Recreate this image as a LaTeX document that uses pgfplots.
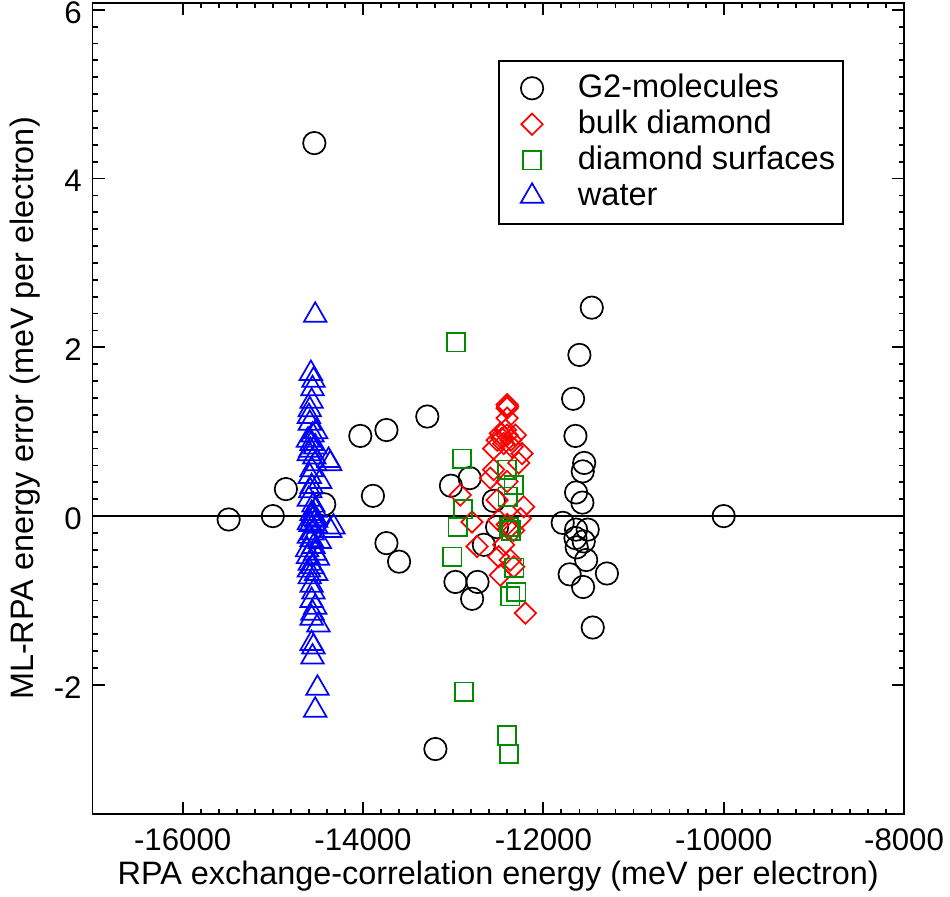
\documentclass[border=0pt]{standalone}
\usepackage{fontspec}
\setmainfont{Liberation Sans}
\usepackage{pgfplots}
\pgfplotsset{compat=1.18}
\definecolor{mygreen}{RGB}{0,140,0}
\pgfplotsset{myleg/.style={legend image code/.code={%
  \path (-5.5pt,0pt) (29pt,0pt);
  \draw[mark repeat=2,mark phase=2,##1] plot coordinates {(0cm,0cm) (0.3cm,0cm) (0.6cm,0cm)};}}}
\begin{document}
\begin{tikzpicture}
\begin{axis}[
 scale only axis, width=405.75pt, height=405.5pt,
 xmin=-17000, xmax=-8000, ymin=-3.53, ymax=6.08,
 xtick={-16000,-14000,-12000,-10000,-8000}, ytick={-2,0,2,4,6},
 minor x tick num=9, minor y tick num=9,
 scaled x ticks=false, scaled y ticks=false,
 tick align=inside, major tick length=6pt, minor tick length=2.6pt,
 xtick pos=both, ytick pos=both, xticklabel pos=lower, yticklabel pos=left,
 every tick/.style={black, line width=0.9pt},
 axis line style={line width=0.9pt},
 /pgf/number format/assume math mode=true,
 /pgf/number format/1000 sep={},
 tick label style={font=\fontsize{15.6}{18}\selectfont},
 xticklabel style={inner sep=0pt, yshift=-7pt},
 yticklabel style={inner sep=0pt, xshift=-5.25pt, yshift=-1.3pt},
 xlabel={RPA exchange-correlation energy (meV per electron)},
 ylabel={ML-RPA energy error (meV per electron)},
 every axis x label/.style={at={(axis description cs:0.5,-0.0875)}, anchor=base, font=\fontsize{16.2}{19}\selectfont},
 every axis y label/.style={at={(axis description cs:-0.0727,0.5)}, rotate=90, anchor=base, font=\fontsize{16.2}{19}\selectfont},
 legend style={at={(0.5,0.93)}, anchor=north west, draw=black, line width=0.9pt,
   font=\fontsize{16.3}{19}\selectfont, inner xsep=2pt, inner ysep=4.8pt,
   nodes={inner sep=2pt, text height=11.8pt, text depth=2.2pt}, column sep=0pt},
 legend cell align=left,
 clip=false,
]
\addplot[black, line width=0.85pt, forget plot] coordinates {(-17000,0) (-8000,0)};
\addplot[only marks, myleg, mark=o, mark size=5.6pt, black, line width=0.85pt] table {
-15490 -0.04
-15000 0.00
-14855 0.32
-14540 4.42
-14430 0.14
-14030 0.95
-13890 0.24
-13740 1.02
-13740 -0.32
-13600 -0.54
-13287 1.18
-13197 -2.76
-13025 0.36
-12975 -0.78
-12817 0.45
-12790 -0.98
-12730 -0.78
-12660 -0.34
-12550 0.18
-12513 -0.13
-11463 2.47
-11600 1.91
-11670 1.39
-11644 0.95
-11547 0.63
-11563 0.53
-11637 0.28
-11567 0.16
-11785 -0.08
-11637 -0.16
-11508 -0.16
-11552 -0.30
-11644 -0.26
-11630 -0.37
-11525 -0.52
-11708 -0.69
-11295 -0.68
-11559 -0.84
-11452 -1.32
-10000 0.00
};
\addlegendentry{G2-molecules}
\addplot[only marks, myleg, mark=square, mark size=3.77pt, mark options={rotate=45}, red, line width=0.85pt] table {
-12402 1.32
-12395 1.30
-12402 1.28
-12402 1.16
-12420 1.02
-12477 0.98
-12402 0.96
-12310 0.96
-12460 0.92
-12360 0.90
-12513 0.90
-12440 0.86
-12551 0.80
-12347 0.82
-12236 0.74
-12273 0.63
-12551 0.55
-12588 0.45
-12402 0.41
-12921 0.25
-12513 0.19
-12218 0.11
-12255 -0.03
-12791 -0.07
-12496 -0.05
-12400 -0.10
-12385 -0.15
-12329 -0.17
-12735 -0.36
-12440 -0.34
-12496 -0.48
-12366 -0.52
-12329 -0.60
-12477 -0.70
-12199 -1.15
};
\addlegendentry{bulk diamond}
\addplot[only marks, myleg, mark=square, mark size=4.6pt, mygreen, line width=0.85pt] table {
-12969 2.06
-12902 0.68
-12891 0.08
-12950 -0.13
-13010 -0.48
-12880 -2.08
-12402 0.55
-12329 0.37
-12396 0.23
-12358 -0.17
-12380 -0.13
-12321 -0.61
-12299 -0.90
-12366 -0.95
-12402 -2.60
-12380 -2.82
};
\addlegendentry{diamond surfaces}
\addplot[only marks, myleg, mark=triangle, mark size=6.5pt, blue, line width=0.85pt] table {
-14530 2.38
-14578 1.69
-14549 1.61
-14560 1.51
-14570 1.36
-14590 1.26
-14600 1.18
-14590 1.10
-14520 1.00
-14560 0.96
-14610 0.90
-14570 0.86
-14530 0.82
-14585 0.78
-14600 0.74
-14540 0.70
-14382 0.66
-14364 0.62
-14530 0.62
-14570 0.55
-14590 0.47
-14475 0.41
-14570 0.35
-14585 0.30
-14600 0.20
-14550 0.13
-14530 0.07
-14570 0.03
-14540 0.00
-14550 -0.03
-14520 -0.05
-14600 -0.08
-14580 -0.10
-14520 -0.12
-14327 -0.13
-14364 -0.17
-14560 -0.20
-14600 -0.24
-14570 -0.28
-14480 -0.30
-14550 -0.36
-14620 -0.40
-14530 -0.44
-14610 -0.48
-14500 -0.50
-14590 -0.56
-14560 -0.60
-14600 -0.64
-14520 -0.68
-14590 -0.72
-14570 -0.82
-14550 -0.90
-14570 -1.00
-14530 -1.08
-14560 -1.15
-14570 -1.21
-14494 -1.29
-14570 -1.51
-14550 -1.55
-14560 -1.67
-14505 -2.04
-14530 -2.30
};
\addlegendentry{water}
\end{axis}
\pgfresetboundingbox
\path[use as bounding box] ([shift={(-46.25pt,-41pt)}]current axis.south west) rectangle ([shift={(23pt,1.5pt)}]current axis.north east);
\end{tikzpicture}
\end{document}
